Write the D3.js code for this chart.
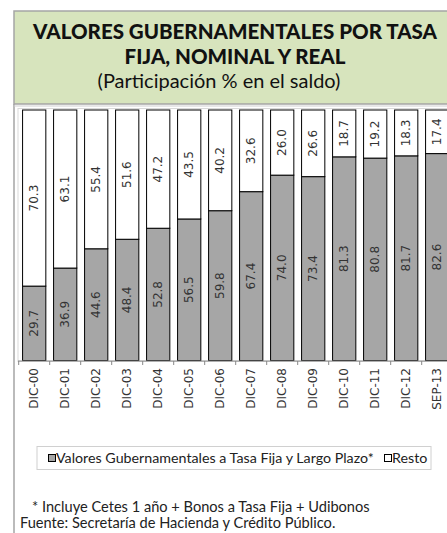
<!DOCTYPE html>
<html><head><meta charset="utf-8">
<script src="https://cdn.jsdelivr.net/npm/d3@7"></script>
<style>body{margin:0;background:#fff}svg{display:block}</style>
</head><body>
<script>
const categories = ["DIC-00","DIC-01","DIC-02","DIC-03","DIC-04","DIC-05","DIC-06","DIC-07","DIC-08","DIC-09","DIC-10","DIC-11","DIC-12","SEP-13"];
const fija = [29.7,36.9,44.6,48.4,52.8,56.5,59.8,67.4,74.0,73.4,81.3,80.8,81.7,82.6];
const resto = [70.3,63.1,55.4,51.6,47.2,43.5,40.2,32.6,26.0,26.6,18.7,19.2,18.3,17.4];
const seriesNames = ["Valores Gubernamentales a Tasa Fija y Largo Plazo*","Resto"];
const yTicks = [0,100];

const W=447,H=533;
const svg=d3.select("body").append("svg").attr("width",W).attr("height",H);

function fit(sel,target){const n=sel.node();const w=n.getComputedTextLength();const fs=parseFloat(sel.attr("font-size"));sel.attr("font-size",fs*target/w);}

// title box
svg.append("rect").attr("x",14).attr("y",11).attr("width",440).attr("height",93)
  .attr("fill","#d7e4bd").attr("stroke","#a5a5a5").attr("stroke-width",1.5);
// left frame line
svg.append("line").attr("x1",14).attr("x2",14).attr("y1",104).attr("y2",533).attr("stroke","#a5a5a5").attr("stroke-width",1.5);
svg.append("line").attr("x1",14).attr("x2",447).attr("y1",106).attr("y2",106).attr("stroke","#d0d0d0").attr("stroke-width",1);

const tf="Lato, 'Open Sans', sans-serif";
const t1=svg.append("text").attr("x",235).attr("y",39).attr("text-anchor","middle").attr("font-family",tf).attr("font-weight","900").attr("font-size",17).attr("fill","#111").text("VALORES GUBERNAMENTALES POR TASA");
fit(t1,404);
const t2=svg.append("text").attr("x",235).attr("y",64).attr("text-anchor","middle").attr("font-family",tf).attr("font-weight","900").attr("font-size",t1.attr("font-size")).attr("fill","#111").text("FIJA, NOMINAL Y REAL");
const t3=svg.append("text").attr("x",219).attr("y",88).attr("text-anchor","middle").attr("font-family",tf).attr("font-size",19).attr("fill","#111").text("(Participación % en el saldo)");
fit(t3,243);

// plot area
const x=d3.scaleBand().domain(categories).range([18.7,18.7+31*categories.length]).paddingInner(0.25).paddingOuter(0.125);
const y=d3.scaleLinear().domain(yTicks).range([360.5,110]);

svg.append("rect").attr("x",18).attr("y",108.5).attr("width",440).attr("height",253).attr("fill","none").attr("stroke","#d9d9d9");

const data=categories.map((c,i)=>({c,f:fija[i],r:resto[i]}));
const stack=d3.stack().keys(["f","r"])(data);
const fills=["#a6a6a6","#ffffff"];
const lf="'DejaVu Sans', Verdana, sans-serif";
stack.forEach((layer,li)=>{
  const g=svg.append("g");
  g.selectAll("rect").data(layer).join("rect")
    .attr("x",d=>x(d.data.c)).attr("width",x.bandwidth())
    .attr("y",d=>y(d[1])).attr("height",d=>y(d[0])-y(d[1]))
    .attr("fill",fills[li]).attr("stroke","#000").attr("stroke-width",1);
  g.selectAll("text").data(layer).join("text")
    .attr("transform",d=>`translate(${x(d.data.c)+x.bandwidth()/2+4},${(y(d[0])+y(d[1]))/2}) rotate(-90)`)
    .attr("text-anchor","middle").attr("font-family",lf).attr("font-size",12).attr("fill","#333")
    .text(d=>(d[1]-d[0]).toFixed(1));
});

// x axis
const ax=svg.append("g").attr("transform","translate(0,361)").call(d3.axisBottom(x).tickSize(0).tickPadding(0).tickFormat(""));
ax.select(".domain").attr("stroke","#888").attr("d","M18,0H447");
categories.forEach((c,i)=>{
  const bx=18.7+31*i;
  svg.append("line").attr("x1",bx).attr("x2",bx).attr("y1",361).attr("y2",365).attr("stroke","#888");
});
svg.append("g").selectAll("text").data(categories).join("text")
  .attr("transform",d=>`translate(${x(d)+x.bandwidth()/2+4},368) rotate(-90)`)
  .attr("text-anchor","end").attr("font-family",lf).attr("font-size",12).attr("fill","#333").text(d=>d);

// legend
svg.append("rect").attr("x",37).attr("y",446.5).attr("width",394).attr("height",23).attr("fill","#fff").attr("stroke","#d0d0d0");
svg.append("rect").attr("x",48.5).attr("y",454.5).attr("width",7).attr("height",7).attr("fill",fills[0]).attr("stroke","#000");
const lt=svg.append("text").attr("x",56).attr("y",463).attr("font-family",tf).attr("font-size",13).attr("fill","#222").text(seriesNames[0]);
fit(lt,318);
svg.append("rect").attr("x",384.5).attr("y",454.5).attr("width",7).attr("height",7).attr("fill",fills[1]).attr("stroke","#000");
const lt2=svg.append("text").attr("x",392).attr("y",463).attr("font-family",tf).attr("font-size",lt.attr("font-size")).attr("fill","#222").text(seriesNames[1]);

// footnotes
const f1=svg.append("text").attr("x",32).attr("y",512).attr("font-family",tf).attr("font-size",14).attr("fill","#222").text("* Incluye Cetes 1 año + Bonos a Tasa Fija + Udibonos");
fit(f1,338);
const f2=svg.append("text").attr("x",20).attr("y",528).attr("font-family",tf).attr("font-size",f1.attr("font-size")).attr("fill","#222").text("Fuente: Secretaría de Hacienda y Crédito Público.");
</script>
</body></html>
